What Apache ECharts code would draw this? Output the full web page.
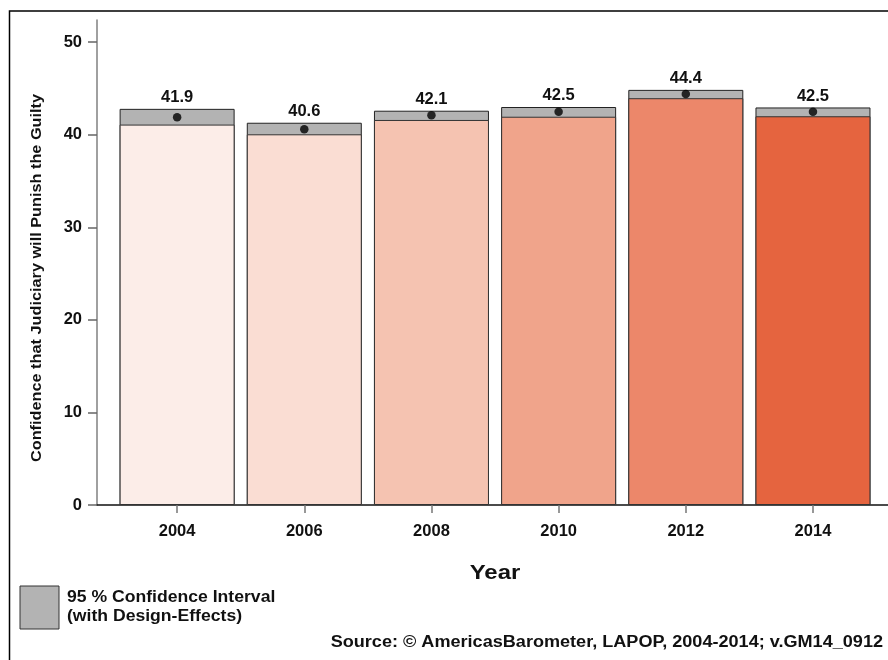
<!DOCTYPE html>
<html>
<head>
<meta charset="utf-8">
<script src="https://cdn.jsdelivr.net/npm/echarts@6/dist/echarts.min.js"></script>
<style>html,body{margin:0;padding:0;background:#fff;}#c{width:888px;height:660px;}</style>
</head>
<body>
<div id="c"></div>
<script>
var years = [2004, 2006, 2008, 2010, 2012, 2014];
var means = [41.9, 40.6, 42.1, 42.5, 44.4, 42.5];
var ciLower = [41.1, 40.05, 41.6, 41.95, 43.95, 42.0];
var ciUpper = [42.8, 41.3, 42.6, 43.0, 44.85, 42.95];
var yTicks = [0, 10, 20, 30, 40, 50];
var barColors = ['#FCEDE8', '#FADDD3', '#F5C3B1', '#F0A48B', '#EC876A', '#E5643F'];

var FONT = '"Liberation Sans", Arial, sans-serif';
var chart = echarts.init(document.getElementById('c'), null, {renderer: 'canvas'});

var upperData = years.map(function (y, i) { return [y, ciUpper[i]]; });
var lowerData = years.map(function (y, i) {
  return {value: [y, ciLower[i]], itemStyle: {color: barColors[i]}};
});
var meanData = years.map(function (y, i) { return [y, means[i]]; });

chart.setOption({
  animation: false,
  backgroundColor: '#fff',
  grid: {left: 97, right: 0, top: 20, bottom: 155, containLabel: false},
  xAxis: {
    type: 'value',
    min: 2002.74,
    max: 2015.18,
    splitLine: {show: false},
    axisLine: {show: true, onZero: false, lineStyle: {color: '#111', width: 1.5}},
    axisTick: {show: true, customValues: years, length: 8, lineStyle: {color: '#777', width: 1.5}},
    axisLabel: {customValues: years, margin: 18, color: '#111', fontFamily: FONT, fontWeight: 'bold', fontSize: 16.5,
      formatter: function (v) { return String(v); }}
  },
  yAxis: {
    type: 'value',
    min: 0,
    max: 52.4,
    splitLine: {show: false},
    axisLine: {show: true, lineStyle: {color: '#808080', width: 1.5}},
    axisTick: {show: true, customValues: yTicks, length: 9, lineStyle: {color: '#666', width: 1.5}},
    axisLabel: {customValues: yTicks, margin: 15, color: '#111', fontFamily: FONT, fontWeight: 'bold', fontSize: 16.5}
  },
  series: [
    {
      type: 'bar',
      name: 'ci',
      data: upperData,
      barWidth: 115,
      itemStyle: {color: '#B3B3B3', borderColor: '#222', borderWidth: 1},
      label: {
        show: true, position: 'top', distance: 3,
        color: '#111', fontFamily: FONT, fontWeight: 'bold', fontSize: 16.5,
        formatter: function (p) { return means[p.dataIndex].toFixed(1); }
      },
      z: 2
    },
    {
      type: 'bar',
      name: 'mean',
      data: lowerData,
      barWidth: 115,
      barGap: '-100%',
      itemStyle: {borderColor: '#333', borderWidth: 1},
      z: 3
    },
    {
      type: 'scatter',
      data: meanData,
      symbol: 'circle',
      symbolSize: 8.5,
      itemStyle: {color: '#000'},
      z: 5
    }
  ],
  graphic: [
    {type: 'rect', shape: {x: 9.5, y: 11, width: 900, height: 700}, style: {fill: 'none', stroke: '#000', lineWidth: 1.5}, silent: true, z: 0},
    {type: 'text', x: 37, y: 278, rotation: Math.PI / 2, scaleX: 1.05,
      style: {text: 'Confidence that Judiciary will Punish the Guilty', fill: '#111', font: 'bold 15.5px ' + FONT, textAlign: 'center', textVerticalAlign: 'middle'}},
    {type: 'text', x: 495, y: 573, scaleX: 1.14,
      style: {text: 'Year', fill: '#111', font: 'bold 21px ' + FONT, textAlign: 'center', textVerticalAlign: 'middle'}},
    {type: 'rect', shape: {x: 20, y: 586, width: 39, height: 43}, style: {fill: '#B3B3B3', stroke: '#333', lineWidth: 1}},
    {type: 'text', x: 67, y: 598, scaleX: 1.1,
      style: {text: '95 % Confidence Interval', fill: '#111', font: 'bold 16px ' + FONT, textAlign: 'left', textVerticalAlign: 'middle'}},
    {type: 'text', x: 67, y: 617, scaleX: 1.1,
      style: {text: '(with Design-Effects)', fill: '#111', font: 'bold 16px ' + FONT, textAlign: 'left', textVerticalAlign: 'middle'}},
    {type: 'text', x: 883, y: 643, scaleX: 1.13,
      style: {text: 'Source: \u00A9 AmericasBarometer, LAPOP, 2004-2014; v.GM14_0912', fill: '#111', font: 'bold 16px ' + FONT, textAlign: 'right', textVerticalAlign: 'middle'}}
  ]
});
</script>
</body>
</html>
